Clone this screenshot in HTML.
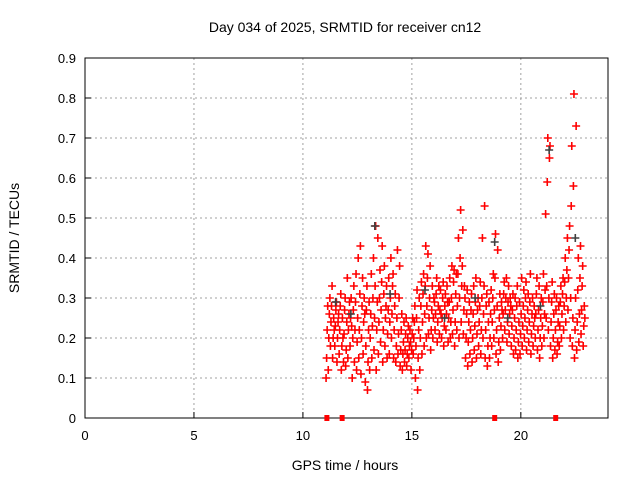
<!DOCTYPE html>
<html><head><meta charset="utf-8"><style>
html,body{margin:0;padding:0;background:#fff}
svg{display:block;font-family:"Liberation Sans",sans-serif}
</style></head><body>
<svg id="chart" width="640" height="480">
<rect width="640" height="480" fill="#fff"/>
<g id="grid"></g><g id="axes"></g><g id="marks"></g><g id="labels"></g>
<text x="345" y="32" text-anchor="middle" font-size="14">Day 034 of 2025, SRMTID for receiver cn12</text>
<text x="345" y="470" text-anchor="middle" font-size="14">GPS time / hours</text>
<text x="19" y="238" text-anchor="middle" font-size="14" transform="rotate(-90 19 238)">SRMTID / TECUs</text>
</svg>
<script>
const times=[11.1,11.2,11.3,11.4,11.5,11.6,11.7,11.8,11.9,12.0,12.1,12.2,12.3,12.4,12.5,12.6,12.7,12.8,12.9,13.0,13.1,13.2,13.3,13.4,13.5,13.6,13.7,13.8,13.9,14.0,14.1,14.2,14.3,14.4,14.5,14.6,14.7,14.8,14.9,15.0,15.1,15.2,15.3,15.4,15.5,15.6,15.7,15.8,15.9,16.0,16.1,16.2,16.3,16.4,16.5,16.6,16.7,16.8,16.9,17.0,17.1,17.2,17.3,17.4,17.5,17.6,17.7,17.8,17.9,18.0,18.1,18.2,18.3,18.4,18.5,18.6,18.7,18.8,18.9,19.0,19.1,19.2,19.3,19.4,19.5,19.6,19.7,19.8,19.9,20.0,20.1,20.2,20.3,20.4,20.5,20.6,20.7,20.8,20.9,21.0,21.1,21.2,21.3,21.4,21.5,21.6,21.7,21.8,21.9,22.0,22.1,22.2,22.3,22.4,22.5,22.6,22.7,22.8,22.9];
const values=[[.10,.15,.22,.28],[.12,.20,.26,.30],[.18,.24,.28,.33],[.15,.20,.25,.22],[.18,.23,.27,.29],[.14,.20,.24,.26],[.16,.22,.28,.31],[.12,.18,.25,.20],[.14,.21,.27,.30],[.13,.17,.24,.35],[.15,.22,.26,.29],[.18,.25,.30,.23],[.10,.20,.27,.33],[.14,.22,.29,.36],[.12,.19,.25,.40],[.15,.22,.31,.43],[.11,.20,.28,.35],[.16,.24,.30,.26],[.09,.18,.27,.33],[.07,.14,.22,.29],[.12,.20,.26,.36],[.15,.23,.30,.40],[.17,.25,.33,.48],[.12,.22,.29,.45],[.16,.24,.30,.37],[.19,.27,.34,.43],[.14,.22,.31,.38],[.18,.25,.28,.33],[.15,.21,.27,.35],[.16,.24,.30,.40],[.20,.26,.33,.36],[.15,.22,.28,.31],[.14,.18,.25,.42],[.16,.21,.30,.38],[.13,.17,.22,.26],[.12,.16,.19,.24],[.14,.17,.21,.25],[.13,.16,.20,.23],[.15,.18,.22,.19],[.12,.17,.21,.25],[.16,.20,.24,.28],[.10,.18,.25,.32],[.07,.15,.22,.30],[.12,.20,.28,.34],[.16,.24,.31,.36],[.18,.26,.33,.43],[.20,.28,.35,.41],[.21,.25,.30,.38],[.17,.22,.27,.33],[.20,.25,.30,.29],[.22,.26,.31,.35],[.19,.24,.28,.33],[.21,.27,.32,.26],[.20,.25,.30,.34],[.18,.23,.28,.31],[.22,.26,.33,.29],[.19,.25,.29,.35],[.20,.24,.30,.38],[.21,.27,.34,.37],[.18,.24,.31,.36],[.22,.28,.36,.45],[.20,.30,.40,.52],[.24,.33,.38,.47],[.21,.27,.33,.30],[.15,.20,.26,.32],[.13,.19,.24,.29],[.16,.22,.27,.31],[.14,.20,.26,.33],[.17,.23,.29,.35],[.15,.21,.27,.30],[.18,.24,.28,.34],[.16,.22,.30,.45],[.20,.26,.33,.53],[.15,.22,.28,.31],[.13,.18,.24,.29],[.15,.20,.26,.32],[.18,.24,.30,.36],[.20,.27,.35,.46],[.16,.22,.28,.42],[.14,.19,.25,.31],[.17,.23,.29,.27],[.20,.26,.31,.34],[.22,.27,.30,.35],[.19,.24,.29,.33],[.21,.26,.30,.28],[.18,.23,.27,.31],[.16,.20,.25,.30],[.17,.22,.28,.33],[.15,.19,.24,.29],[.16,.21,.26,.35],[.18,.23,.28,.32],[.20,.25,.30,.34],[.17,.22,.27,.31],[.19,.24,.29,.36],[.16,.21,.26,.30],[.18,.23,.28,.25],[.20,.26,.31,.35],[.17,.22,.27,.33],[.15,.20,.25,.30],[.18,.23,.29,.36],[.20,.26,.32,.51],[.25,.33,.59,.70],[.22,.30,.65,.68],[.18,.24,.29,.34],[.15,.20,.26,.31],[.17,.22,.27,.30],[.16,.19,.24,.28],[.18,.23,.29,.33],[.20,.26,.31,.35],[.22,.28,.34,.40],[.24,.30,.37,.45],[.27,.35,.42,.48],[.20,.30,.53,.68],[.18,.25,.58,.81],[.15,.22,.30,.73],[.17,.24,.32,.40],[.19,.26,.35,.43],[.21,.27,.33,.38],[.18,.23,.28,.25]];
const grayTimes=[11.5,12.2,13.3,14.0,15.6,16.5,17.9,18.8,19.4,20.9,21.3,22.5];
const grayValues=[.29,.26,.48,.31,.32,.25,.30,.44,.25,.28,.67,.45];
const gapTimes=[11.1,11.8,18.8,21.6];
const xTicks=[0,5,10,15,20];
const yTicks=[0,0.1,0.2,0.3,0.4,0.5,0.6,0.7,0.8,0.9];
const NS='http://www.w3.org/2000/svg';
const L=85,R=608,T=58,B=418;
const xs=v=>L+(v/24)*(R-L);
const ys=v=>B-(v/0.9)*(B-T);
function mk(tag,attrs,parent){const e=document.createElementNS(NS,tag);for(const k in attrs)e.setAttribute(k,attrs[k]);parent.appendChild(e);return e;}
const grid=document.getElementById('grid'),axes=document.getElementById('axes'),marks=document.getElementById('marks'),labels=document.getElementById('labels');
xTicks.forEach(t=>{
 const x=xs(t);
 if(t>0){const g=mk('line',{x1:x,y1:T,x2:x,y2:B,stroke:'#a0a0a0','stroke-dasharray':'2,3','stroke-width':1},grid);
 
 }
 const tk=mk('line',{x1:x,y1:B,x2:x,y2:B-6,stroke:'#000'},axes);
 
 
 const tx=mk('text',{x:x,y:B+22,'text-anchor':'middle','font-size':13,fill:'#000'},labels);tx.textContent=t;
 
 
});
yTicks.forEach(t=>{
 const y=ys(t);
 if(t>0&&t<0.9){const g=mk('line',{x1:L,y1:y,x2:R,y2:y,stroke:'#a0a0a0','stroke-dasharray':'2,3','stroke-width':1},grid);
 
 }
 const tk=mk('line',{x1:L,y1:y,x2:L+6,y2:y,stroke:'#000'},axes);
 
 
 const tx=mk('text',{x:L-9,y:y+5,'text-anchor':'end','font-size':13,fill:'#000'},labels);tx.textContent=t===0?'0':t.toFixed(1);
 
 
});
const frame=mk('rect',{x:L,y:T,width:R-L,height:B-T,fill:'none',stroke:'#000','stroke-width':1},axes);


function plus(x,y,c){const p=mk('path',{d:`M${x-4},${y}h8M${x},${y-4}v8`,stroke:c,'stroke-width':1.6,fill:'none'},marks);return p;}
times.forEach((t,i)=>{values[i].forEach((v,k)=>{
 const p=plus(xs(t+(k-1.5)*0.025),ys(v),'#ff0000');
 
 
});});
grayTimes.forEach((t,i)=>{
 const p=plus(xs(t),ys(grayValues[i]),'#404040');
 
 
});
gapTimes.forEach(t=>{
 const r=mk('rect',{x:xs(t)-2.5,y:B-3,width:5,height:6,fill:'#ff0000'},marks);
 
 
});
</script>
</body></html>
